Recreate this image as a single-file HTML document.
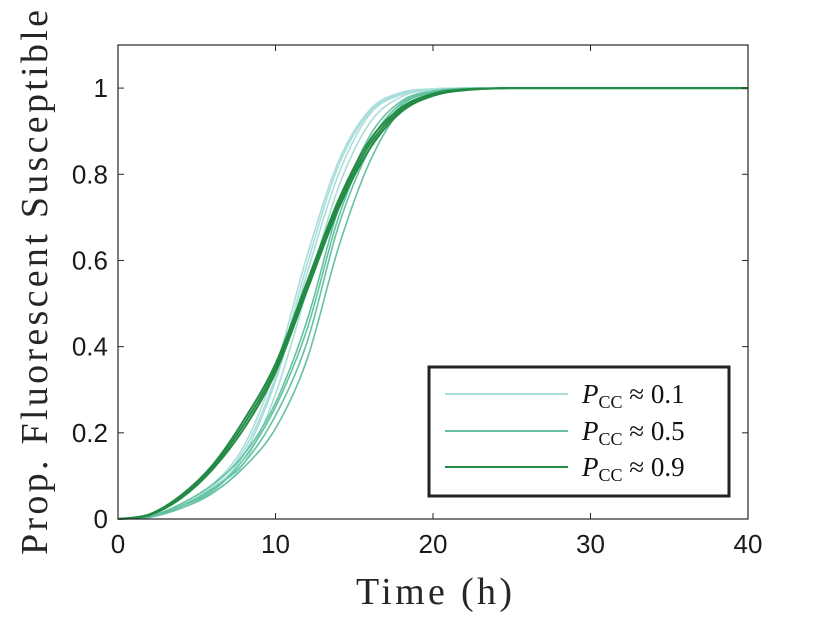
<!DOCTYPE html>
<html><head><meta charset="utf-8"><style>
body{margin:0;background:#fff;}
svg text{font-family:"Liberation Sans",sans-serif;}
</style></head><body>
<svg width="827" height="621" viewBox="0 0 827 621">
<g id="plot"></g>
<g id="axes"></g>
<text x="356" y="604" textLength="156" lengthAdjust="spacing" font-size="38" style="font-family:'Liberation Serif',serif" fill="#262626">Time (h)</text>
<text transform="translate(47,555) rotate(-90)" textLength="545" lengthAdjust="spacing" font-size="38" style="font-family:'Liberation Serif',serif" fill="#262626">Prop. Fluorescent Susceptible</text>
<g>
<rect x="429" y="367" width="300" height="129" fill="#fff" stroke="#222" stroke-width="3"/>
<g>
<line x1="445" x2="568" y1="394" y2="394" stroke="#a9deda" stroke-width="2"/>
<text x="582" y="403" font-size="27" style="font-family:'Liberation Serif',serif" fill="#111"><tspan font-style="italic">P</tspan><tspan font-size="18" dy="5">CC</tspan><tspan dy="-5"> ≈ 0.1</tspan></text></g>
<g>
<line x1="445" x2="568" y1="431" y2="431" stroke="#62c2a0" stroke-width="2"/>
<text x="582" y="440" font-size="27" style="font-family:'Liberation Serif',serif" fill="#111"><tspan font-style="italic">P</tspan><tspan font-size="18" dy="5">CC</tspan><tspan dy="-5"> ≈ 0.5</tspan></text></g>
<g>
<line x1="445" x2="568" y1="467" y2="467" stroke="#238b45" stroke-width="2"/>
<text x="582" y="476" font-size="27" style="font-family:'Liberation Serif',serif" fill="#111"><tspan font-style="italic">P</tspan><tspan font-size="18" dy="5">CC</tspan><tspan dy="-5"> ≈ 0.9</tspan></text></g>
</g>
</svg>
<script>
const times = [0,2,4,6,8,10,12,14,16,18,20,22,25,30,40];
const light1 = [0,0.005,0.03,0.07,0.15,0.32,0.57,0.80,0.94,0.985,0.997,1,1,1,1];
const light2 = [0,0.006,0.035,0.08,0.17,0.35,0.61,0.83,0.95,0.99,0.998,1,1,1,1];
const light3 = [0,0.004,0.025,0.06,0.13,0.29,0.53,0.77,0.92,0.98,0.996,1,1,1,1];
const light4 = [0,0.005,0.03,0.075,0.16,0.33,0.59,0.82,0.945,0.988,0.998,1,1,1,1];
const med1 = [0,0.005,0.03,0.07,0.13,0.24,0.41,0.68,0.86,0.96,0.99,0.998,1,1,1];
const med2 = [0,0.006,0.035,0.08,0.15,0.27,0.46,0.72,0.89,0.97,0.993,0.999,1,1,1];
const med3 = [0,0.004,0.025,0.06,0.12,0.21,0.37,0.63,0.83,0.95,0.985,0.997,1,1,1];
const med4 = [0,0.005,0.03,0.065,0.14,0.26,0.44,0.70,0.875,0.965,0.99,0.998,1,1,1];
const dark1 = [0,0.01,0.05,0.12,0.22,0.35,0.54,0.73,0.87,0.95,0.985,0.996,1,1,1];
const dark2 = [0,0.011,0.055,0.125,0.23,0.36,0.55,0.74,0.88,0.955,0.987,0.997,1,1,1];
const dark3 = [0,0.009,0.048,0.115,0.21,0.34,0.53,0.72,0.86,0.945,0.982,0.995,1,1,1];
const xTicks = [0,10,20,30,40];
const yTicks = [0,0.2,0.4,0.6,0.8,1];
const yTickLabels = ["0","0.2","0.4","0.6","0.8","1"];

const X0=118,X1=748,Y0=519,Y1=45;
const xs = t => X0 + (t/40)*(X1-X0);
const ys = v => Y0 - (v/1.1)*(Y0-Y1);
const NS="http://www.w3.org/2000/svg";
function mk(tag,attrs,parent){const e=document.createElementNS(NS,tag);for(const k in attrs)e.setAttribute(k,attrs[k]);parent.appendChild(e);return e;}
function pathFor(vals){
  const p=times.map((t,i)=>[xs(t),ys(vals[i])]);
  let d=`M${p[0][0]},${p[0][1]}`;
  for(let i=0;i<p.length-1;i++){
    const a=p[i-1]||p[i],b=p[i],c=p[i+1],e=p[i+2]||c;
    let c1y=b[1]+(c[1]-a[1])/6, c2y=c[1]-(e[1]-b[1])/6;
    c1y=Math.min(Math.max(c1y,Math.min(b[1],c[1])),Math.max(b[1],c[1]));
    c2y=Math.min(Math.max(c2y,Math.min(b[1],c[1])),Math.max(b[1],c[1]));
    d+=` C${b[0]+(c[0]-a[0])/6},${c1y} ${c[0]-(e[0]-b[0])/6},${c2y} ${c[0]},${c[1]}`;
  }
  return d;
}
const plot=document.getElementById('plot');
const groups=[
 {name:'pcc-0.1',color:'#a9deda',series:[light1,light2,light3,light4],w:1.6},
 {name:'pcc-0.5',color:'#62c2a0',series:[med1,med2,med3,med4],w:1.6},
 {name:'pcc-0.9',color:'#238b45',series:[dark1,dark2,dark3],w:2}
];
groups.forEach(g=>{g.series.forEach((s,i)=>{
  const el=mk('path',{d:pathFor(s),fill:'none',stroke:g.color,'stroke-width':g.w},plot);
  
  
});});
const ax=document.getElementById('axes');
const frame=mk('rect',{x:X0,y:Y1,width:X1-X0,height:Y0-Y1,fill:'none',stroke:'#262626','stroke-width':1.2},ax);


xTicks.forEach(t=>{
  mk('line',{x1:xs(t),x2:xs(t),y1:Y0,y2:Y0-6,stroke:'#262626'},ax);
  mk('line',{x1:xs(t),x2:xs(t),y1:Y1,y2:Y1+6,stroke:'#262626'},ax);
  const tx=mk('text',{x:xs(t),y:Y0+34,'text-anchor':'middle','font-size':26,fill:'#1a1a1a'},ax);
  tx.textContent=t;
  
  
});
yTicks.forEach((v,i)=>{
  mk('line',{x1:X0,x2:X0+6,y1:ys(v),y2:ys(v),stroke:'#262626'},ax);
  mk('line',{x1:X1,x2:X1-6,y1:ys(v),y2:ys(v),stroke:'#262626'},ax);
  const tx=mk('text',{x:X0-10,y:ys(v)+9,'text-anchor':'end','font-size':26,fill:'#1a1a1a'},ax);
  tx.textContent=yTickLabels[i];
  
  
});
</script>
</body></html>
